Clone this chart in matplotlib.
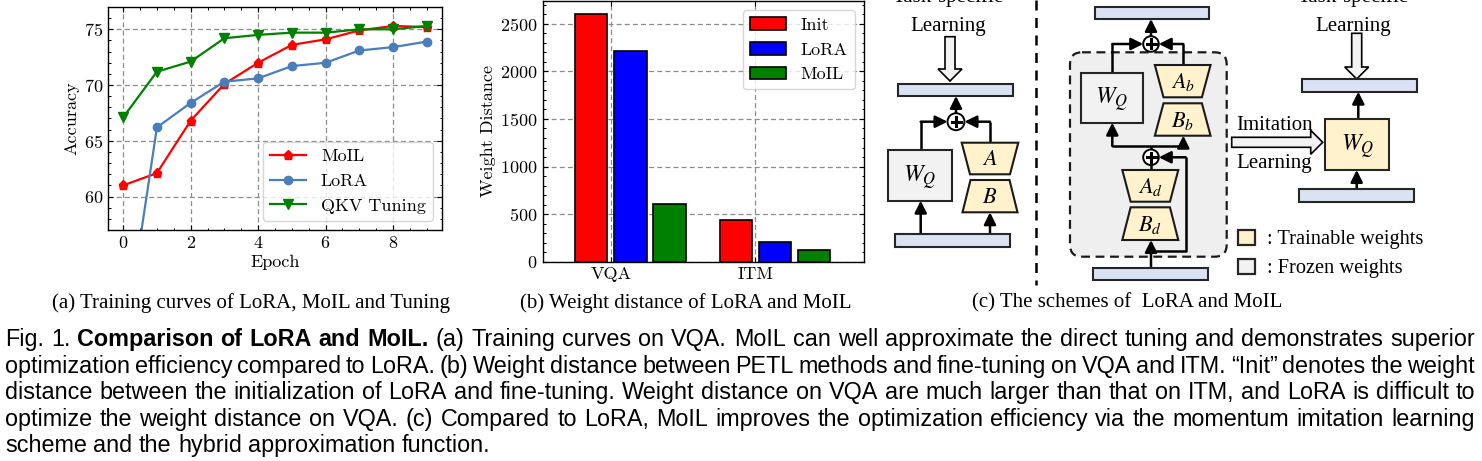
import numpy as np
import matplotlib
matplotlib.use('Agg')
from matplotlib import pyplot as plt
from matplotlib.patches import Rectangle, Polygon, Circle, FancyArrow, FancyBboxPatch
from matplotlib.ticker import AutoMinorLocator, MultipleLocator

# (a) training curves
epochs = list(range(10))
moil_acc = [61.0, 62.1, 66.8, 70.1, 72.0, 73.6, 74.1, 74.9, 75.3, 75.2]
lora_acc = [46.0, 66.2, 68.4, 70.3, 70.6, 71.7, 72.0, 73.1, 73.4, 73.9]
qkv_acc = [67.1, 71.2, 72.1, 74.2, 74.5, 74.7, 74.7, 75.0, 75.0, 75.3]

# (b) weight distance
tasks = ['VQA', 'ITM']
init_dist = [2605, 437]
lora_dist = [2210, 203]
moil_dist = [605, 122]

caption_lines = [
    [("Fig. 1.", 'normal'), ("Comparison of LoRA and MoIL.", 'bold'),
     ("(a) Training curves on VQA. MoIL can well approximate the direct tuning and demonstrates superior", 'normal')],
    [("optimization efficiency compared to LoRA. (b) Weight distance between PETL methods and fine-tuning on VQA and ITM. \u201cInit\u201d denotes the weight", 'normal')],
    [("distance between the initialization of LoRA and fine-tuning. Weight distance on VQA are much larger than that on ITM, and LoRA is difficult to", 'normal')],
    [("optimize the weight distance on VQA. (c) Compared to LoRA, MoIL improves the optimization efficiency via the momentum imitation learning", 'normal')],
    [("scheme and the hybrid approximation function.", 'normal')],
]

plt.rcParams['font.family'] = 'cmr10'
plt.rcParams['mathtext.fontset'] = 'cm'
plt.rcParams['axes.formatter.use_mathtext'] = True
plt.rcParams['axes.linewidth'] = 1.0
for a in ['x', 'y']:
    plt.rcParams[a + 'tick.direction'] = 'in'
    plt.rcParams[a + 'tick.major.size'] = 3.5
    plt.rcParams[a + 'tick.minor.size'] = 1.8
    plt.rcParams[a + 'tick.major.width'] = 0.8
    plt.rcParams[a + 'tick.minor.width'] = 0.7
plt.rcParams['xtick.top'] = True
plt.rcParams['ytick.right'] = True

W, H = 1482, 461
fig = plt.figure(figsize=(W / 100, H / 100), dpi=100)

def px_axes(l, t, r, b):
    return fig.add_axes([l / W, 1 - b / H, (r - l) / W, (b - t) / H])

grid_kw = dict(color='#8c8c8c', linestyle=(0, (4, 2.5)), linewidth=0.9)
fs = 13

# ---- (a)
ax1 = px_axes(108, 7, 442, 230)
ax1.plot(epochs, moil_acc, color='red', marker='p', ms=6.5, lw=1.6, label='MoIL')
ax1.plot(epochs, lora_acc, color='#4a7ebb', marker='o', ms=6, lw=1.6, label='LoRA')
ax1.plot(epochs, qkv_acc, color='green', marker='v', ms=6.5, lw=1.6, label='QKV Tuning')
ax1.set_xlim(-0.45, 9.45)
ax1.set_ylim(57, 77)
ax1.set_xticks([0, 2, 4, 6, 8])
ax1.set_yticks([60, 65, 70, 75])
ax1.xaxis.set_minor_locator(AutoMinorLocator())
ax1.yaxis.set_minor_locator(AutoMinorLocator())
ax1.tick_params(labelsize=fs)
ax1.grid(True, **grid_kw)
ax1.set_axisbelow(True)
ax1.set_xlabel('Epoch', fontsize=fs, labelpad=3)
ax1.set_ylabel('Accuracy', fontsize=fs, labelpad=3)
ax1.legend(loc='lower right', fontsize=fs, handlelength=2.0)

# ---- (b)
ax2 = px_axes(542.7, 1, 864, 261.7)
x = np.arange(len(tasks))
bw = 0.225
ax2.bar(x - 0.135, init_dist, bw, color='red', edgecolor='black', lw=1.2, label='Init', zorder=3)
ax2.bar(x + 0.135, lora_dist, bw, color='blue', edgecolor='black', lw=1.2, label='LoRA', zorder=3)
ax2.bar(x + 0.405, moil_dist, bw, color='green', edgecolor='black', lw=1.2, label='MoIL', zorder=3)
ax2.set_xlim(-0.47, 1.75)
ax2.set_ylim(0, 2740)
ax2.set_xticks(x)
ax2.set_xticklabels(tasks)
ax2.set_yticks(np.arange(0, 2501, 500))
ax2.yaxis.set_minor_locator(MultipleLocator(100))
ax2.tick_params(labelsize=fs)
ax2.grid(True, **grid_kw)
ax2.set_axisbelow(True)
ax2.set_ylabel('Weight Distance', fontsize=fs, labelpad=3)
ax2.legend(loc='upper right', fontsize=fs)

# ---- overlay in pixel units for the scheme and captions
ov = fig.add_axes([0, 0, 1, 1], zorder=-1)
ov.set_xlim(0, W)
ov.set_ylim(H, 0)
ov.axis('off')

serif = 'Liberation Serif'
tfs = 15
BLUE = '#dae3f3'
YEL = '#fff2cc'
GRY = '#f2f2f2'

def box(x0, y0, x1, y1, fc, ec='#262626', lw=1.5):
    ov.add_patch(Rectangle((x0, y0), x1 - x0, y1 - y0, fc=fc, ec=ec, lw=lw, zorder=3))

def trap(xc, yt, yb, wt, wb, label):
    pts = [(xc - wt / 2, yt), (xc + wt / 2, yt), (xc + wb / 2, yb), (xc - wb / 2, yb)]
    ov.add_patch(Polygon(pts, closed=True, fc=YEL, ec='#1a1a1a', lw=1.5, zorder=3))
    ov.text(xc, (yt + yb) / 2 + 1, label, ha='center', va='center', fontsize=16,
            math_fontfamily='stix', zorder=4)

def plus(xc, yc, r=8.5):
    ov.add_patch(Circle((xc, yc), r, fc='white', ec='black', lw=1.4, zorder=4))
    ov.plot([xc - 4.5, xc + 4.5], [yc, yc], color='black', lw=2.2, zorder=5)
    ov.plot([xc, xc], [yc - 4.5, yc + 4.5], color='black', lw=2.2, zorder=5)

def wire(pts, head=True):
    xs = [p[0] for p in pts]
    ys = [p[1] for p in pts]
    ov.plot(xs[:-1] if head else xs, ys[:-1] if head else ys, color='black', lw=1.8,
            solid_capstyle='butt', zorder=2)
    if head:
        ov.annotate('', xy=pts[-1], xytext=pts[-2],
                    arrowprops=dict(arrowstyle='-|>,head_length=0.6,head_width=0.3',
                                    color='black', lw=1.8, shrinkA=0, shrinkB=0,
                                    mutation_scale=12), zorder=2)

def hollow(x0, y0, dx, dy, hl=12):
    ov.add_patch(FancyArrow(x0, y0, dx, dy, width=10, head_width=24, head_length=hl,
                            length_includes_head=True, fc=GRY, ec='black', lw=1.2, zorder=3))

def wq(x0, y0, x1, y1, fc):
    box(x0, y0, x1, y1, fc)
    ov.text((x0 + x1) / 2, (y0 + y1) / 2 + 2, r'$W_Q$', ha='center', va='center',
            fontsize=17, math_fontfamily='stix', zorder=4)

# left: LoRA
ov.text(948, 2, 'Task-specific', ha='center', va='baseline', fontsize=tfs, family=serif)
ov.text(948, 30.7, 'Learning', ha='center', va='baseline', fontsize=tfs, family=serif)
hollow(950, 36.7, 0, 44.3)
box(898.3, 84, 1013.3, 96, BLUE)
plus(956, 121.7)
wq(888.3, 150, 951.7, 200.7, GRY)
trap(990, 142.7, 174.3, 56.6, 40, r'$A$')
trap(990, 180, 212.3, 39, 55, r'$B$')
box(895, 234.3, 1010, 246.7, BLUE)
wire([(920.7, 150), (920.7, 121.7), (947.5, 121.7)])
wire([(990, 142.7), (990, 121.7), (964.5, 121.7)])
wire([(956, 113.2), (956, 96)])
wire([(920.7, 234.3), (920.7, 200.7)])
wire([(990, 234.3), (990, 212.3)])

ov.plot([1035.7, 1035.7], [0, 285], color='black', lw=1.8, linestyle=(0, (4, 3)))

# middle: MoIL
box(1095, 6.7, 1209.3, 19, BLUE)
ov.add_patch(FancyBboxPatch((1070, 52.3), 156.7, 204.4,
                            boxstyle='round,pad=0,rounding_size=12', fc='#efefef',
                            ec='#1a1a1a', lw=1.6, linestyle=(0, (4, 2.5)), zorder=1))
plus(1151, 44, r=7.8)
wq(1080.7, 72.7, 1143.3, 122.7, GRY)
trap(1182.7, 65, 97.3, 55.7, 38.4, r'$A_b$')
trap(1182.7, 103.3, 135.7, 38.4, 55.7, r'$B_b$')
plus(1151, 157.3, r=7.8)
trap(1150.3, 170, 201.7, 56, 39.3, r'$A_d$')
trap(1150.3, 207.3, 240, 39.3, 56, r'$B_d$')
box(1093.3, 267.7, 1208.3, 280, BLUE)
wire([(1112.3, 72.7), (1112.3, 44), (1143.2, 44)])
wire([(1183.3, 65), (1183.3, 44), (1158.8, 44)])
wire([(1151, 36.2), (1151, 19)])
wire([(1151, 149.5), (1151, 146)], head=False)
wire([(1112.3, 146), (1183.3, 146)], head=False)
wire([(1112.3, 146), (1112.3, 122.7)])
wire([(1183.3, 146), (1183.3, 135.7)])
wire([(1151, 170), (1151, 165.1)], head=False)
wire([(1151, 267.7), (1151, 240)])
wire([(1151, 250.7), (1185.7, 250.7), (1185.7, 157.3), (1158.8, 157.3)])

# right: tuned W_Q
ov.text(1352.7, 2, 'Task-specific', ha='center', va='baseline', fontsize=tfs, family=serif)
ov.text(1352.7, 30.7, 'Learning', ha='center', va='baseline', fontsize=tfs, family=serif)
hollow(1356.7, 33.3, 0, 45.7)
box(1302.3, 79.3, 1417.3, 91.7, BLUE)
wq(1325, 119.3, 1389.3, 170, YEL)
box(1299.3, 189.3, 1414, 201.7, BLUE)
wire([(1358.3, 119.3), (1358.3, 91.7)])
wire([(1356.7, 189.3), (1356.7, 170)])
hollow(1231.7, 142.3, 91, 0)
ov.text(1236, 130, 'Imitation', ha='left', va='baseline', fontsize=tfs, family=serif)
ov.text(1236, 168.3, 'Learning', ha='left', va='baseline', fontsize=tfs, family=serif)
box(1237.7, 230, 1255, 245, YEL, lw=1.6)
ov.text(1266.7, 244, ': Trainable weights', ha='left', va='baseline', fontsize=14.7, family=serif)
box(1238.3, 259.3, 1255, 274, GRY, lw=1.6)
ov.text(1266.7, 272.7, ': Frozen weights', ha='left', va='baseline', fontsize=14.7, family=serif)

# sub-captions
sub_fs = 15
ov.text(251, 307.5, '(a) Training curves of LoRA, MoIL and Tuning', ha='center', va='baseline',
        fontsize=sub_fs, family=serif)
ov.text(686, 307.5, '(b) Weight distance of LoRA and MoIL', ha='center', va='baseline',
        fontsize=sub_fs, family=serif)
ov.text(1127, 307.5, '(c) The schemes of  LoRA and MoIL', ha='center', va='baseline',
        fontsize=sub_fs, family=serif)

# figure caption, justified word by word; size chosen so the longest line just fits
cap_family = 'Liberation Sans'
renderer = fig.canvas.get_renderer()
x_left, x_right = 5, 1475
baselines = [346, 372.5, 399, 425.5, 452]

def word_list(line):
    out = []
    for chunk, wt in line:
        for w in chunk.split(' '):
            out.append((w, wt))
    return out

def measure(s, size, wt):
    t = ov.text(0, 0, s, fontsize=size, fontweight=wt, family=cap_family)
    w = t.get_window_extent(renderer).width
    t.remove()
    return w

base_fs = 14.0
sp = measure('a a', base_fs, 'normal') - measure('aa', base_fs, 'normal')
natural = []
for line in caption_lines[:-1]:
    words = word_list(line)
    natural.append(sum(measure(w, base_fs, wt) for w, wt in words) + sp * (len(words) - 1))
cap_fs = base_fs * (x_right - x_left) * 1.03 / max(natural)
space_w = sp * cap_fs / base_fs

for i, line in enumerate(caption_lines):
    words = word_list(line)
    widths = [measure(w, cap_fs, wt) for w, wt in words]
    if i < len(caption_lines) - 1:
        gap = max(0.5 * space_w, (x_right - x_left - sum(widths)) / (len(words) - 1))
    else:
        gap = space_w
    xx = x_left
    for (w, wt), ww in zip(words, widths):
        ov.text(xx, baselines[i], w, fontsize=cap_fs, fontweight=wt, family=cap_family,
                ha='left', va='baseline')
        xx += ww + gap

fig.savefig('out.png', dpi=100)
